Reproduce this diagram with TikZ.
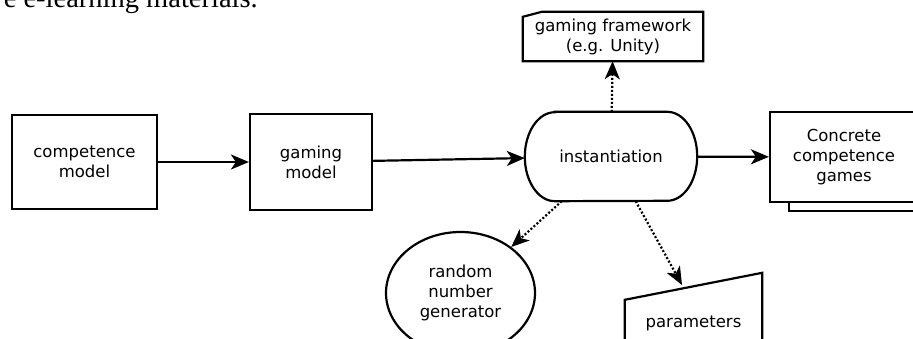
\documentclass[tikz,border=0pt]{standalone}
\usepackage{fontspec}
\setmainfont{DejaVu Sans}
\newfontfamily\bodyserif{Liberation Serif}
\usetikzlibrary{arrows.meta,shapes.geometric,shadows}

\begin{document}
\begin{tikzpicture}[x=1pt, y=1pt, >={Stealth[length=18pt, width=15pt, inset=5pt]},
    lbl/.style={font=\fontsize{16.5}{20}\selectfont, align=center, inner sep=0pt},
    box/.style={lbl, draw, line width=2.2pt},
    flow/.style={->, line width=2.2pt},
    aux/.style={->, line width=2.2pt, dash pattern=on 2pt off 2pt}]
    \useasboundingbox (0,0) rectangle (913,338);
    \clip (0,0) rectangle (913,338);

    % Обрывок строки текста сверху
    \node[anchor=base east, inner sep=0pt, font=\bodyserif\fontsize{28.5}{32}\selectfont] (caption) at (258,330.7) {e e-learning materials.};

    % Модели
    \node[box, minimum width=145pt, minimum height=94pt] (compmodel) at (84.5,176) {competence\\model};
    \node[box, minimum width=122pt, minimum height=96pt] (gaming) at (311,176) {gaming\\model};

    % Инстанцирование (овальный блок)
    \node[lbl, minimum width=172pt, minimum height=89pt] (inst) at (611,181.5) {instantiation};
    \draw[line width=2.2pt] ([xshift=30pt]inst.north west) -- ([xshift=-30pt]inst.north east)
        arc[start angle=90, end angle=-90, x radius=30pt, y radius=44.5pt]
        -- ([xshift=30pt]inst.south west)
        arc[start angle=270, end angle=90, x radius=30pt, y radius=44.5pt] -- cycle;

    % Результат: стопка документов
    \node[box, fill=white, minimum width=148pt, minimum height=90pt,
        copy shadow={shadow xshift=19pt, shadow yshift=-9pt, draw=black, fill=white, line width=2.2pt}] (games) at (844,181) {Concrete\\competence\\games};

    % Игровой фреймворк (карточка со срезанным углом)
    \node[lbl, minimum width=180pt, minimum height=49pt] (framework) at (613,301.5) {gaming framework\\(e.g. Unity)};
    \draw[line width=2.2pt] ([yshift=-5pt]framework.north west) -- ([xshift=19pt]framework.north west)
        -- (framework.north east) -- (framework.south east) -- (framework.south west) -- cycle;

    % Генератор случайных чисел
    \node[box, ellipse, minimum width=149pt, minimum height=122pt] (rng) at (460.5,45) {random\\number\\generator};

    % Параметры (ручной ввод)
    \node[lbl, minimum width=137pt, minimum height=100pt] (params) at (693.5,15) {parameters};
    \draw[line width=2.2pt] (params.south west) -- ([yshift=-27pt]params.north west)
        -- (params.north east) -- (params.south east) -- cycle;
    \coordinate (paramtip) at (682,53);

    % Стрелки
    \draw[flow] (compmodel) -- (gaming);
    \draw[flow] (gaming) -- (inst);
    \draw[flow] (inst) -- (games);
    \draw[aux] (inst) -- (framework);
    \draw[aux] (inst) -- (rng);
    \draw[aux] (inst) -- (paramtip);
\end{tikzpicture}
\end{document}
